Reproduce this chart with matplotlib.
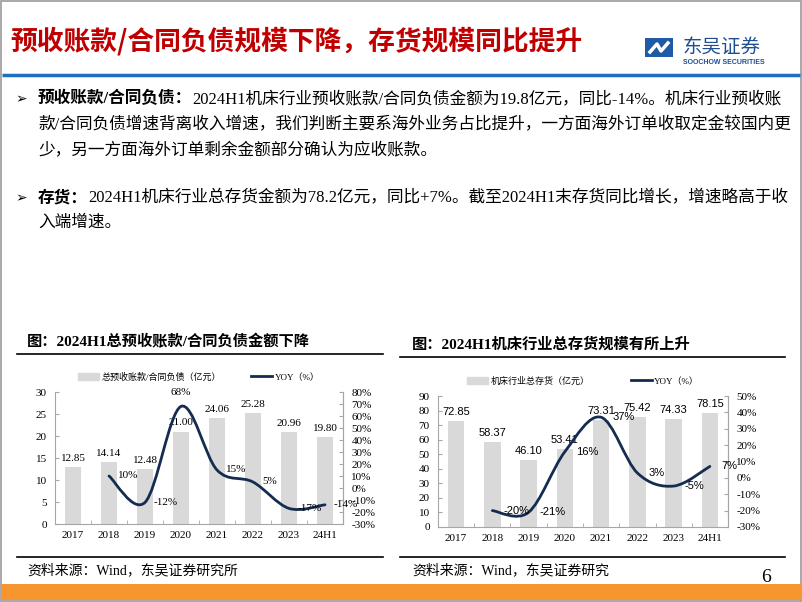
import numpy as np
import matplotlib
matplotlib.use("Agg")
import matplotlib.pyplot as plt
from matplotlib.path import Path
from matplotlib.patches import PathPatch, Rectangle, Patch
from matplotlib.lines import Line2D

CJK = "Noto Sans CJK SC"
SERIF = ["Liberation Serif", CJK]
SANS = ["Liberation Sans", CJK]
plt.rcParams["font.family"] = SERIF

# data
years = ["2017", "2018", "2019", "2020", "2021", "2022", "2023", "24H1"]
adv_amt = [12.85, 14.14, 12.48, 21.00, 24.06, 25.28, 20.96, 19.80]
adv_yoy = [10, -12, 68, 15, 5, -17, -14]          # from 2018
inv_amt = [72.85, 58.37, 46.10, 53.41, 73.31, 75.42, 74.33, 78.15]
inv_yoy = [-20, -21, 16, 37, 3, -5, 7]            # from 2018

BAR = "#D9D9D9"
LINE = "#132C50"
SPINE = "#A6A6A6"


def smooth_path(xs, ys):
    # Catmull-Rom style bezier, like excel smoothed lines
    pts = np.column_stack([xs, ys]).astype(float)
    n = len(pts)
    verts = [pts[0]]
    codes = [Path.MOVETO]
    for i in range(n - 1):
        p0 = pts[i - 1] if i > 0 else pts[i]
        p1, p2 = pts[i], pts[i + 1]
        p3 = pts[i + 2] if i + 2 < n else pts[i + 1]
        verts += [p1 + (p2 - p0) / 6, p2 - (p3 - p1) / 6, p2]
        codes += [Path.CURVE4] * 3
    return Path(verts, codes)


fig = plt.figure(figsize=(8.02, 6.02), dpi=100)

# background / page layer in pixel coords
bg = fig.add_axes([0, 0, 1, 1])
bg.set_xlim(0, 802)
bg.set_ylim(602, 0)
bg.axis("off")
bg.set_zorder(0)

bg.add_patch(Rectangle((0.5, 0.5), 800, 600, fill=False, ec="#9A9A9A", lw=1.2))
bg.plot([2, 800], [75, 75], color="#1E70BE", lw=2.5, solid_capstyle="butt")
bg.add_patch(Rectangle((1, 584), 800, 16, color="#F7962F", lw=0))

bg.text(10, 41, "预收账款/合同负债规模下降，存货规模同比提升", fontsize=19.3,
        color="#C00000", fontweight="bold", family=[CJK], va="center")

# logo
bg.add_patch(Rectangle((645, 38), 28, 19, color="#1F5AA6", lw=0))
bg.plot([650, 657, 661, 668], [52, 44, 51, 43], color="white", lw=2.5)
bg.text(683, 47, "东吴证券", fontsize=14, color="#1F4E91", family=[CJK], va="center")
bg.text(683, 62, "SOOCHOW SECURITIES", fontsize=5, color="#1F4E91",
        family=["Liberation Sans"], fontweight="bold", va="center")

renderer = fig.canvas.get_renderer()


def rich_line(x, y, bold, rest):
    if bold:
        t = bg.text(x, y, bold, fontsize=12, fontweight="bold", family=SERIF, va="center")
        x = t.get_window_extent(renderer).x1
    bg.text(x, y, rest, fontsize=12, family=SERIF, va="center")


for yb in [99, 198]:
    bg.text(15, yb, "➢", fontsize=10, family=["DejaVu Sans"], va="center")

rich_line(38, 99, "预收账款/合同负债：",
          "2024H1机床行业预收账款/合同负债金额为19.8亿元，同比-14%。机床行业预收账")
rich_line(38, 125, "", "款/合同负债增速背离收入增速，我们判断主要系海外业务占比提升，一方面海外订单收取定金较国内更")
rich_line(38, 150, "", "少，另一方面海外订单剩余金额部分确认为应收账款。")
rich_line(38, 198, "存货：",
          "2024H1机床行业总存货金额为78.2亿元，同比+7%。截至2024H1末存货同比增长，增速略高于收")
rich_line(38, 223, "", "入端增速。")

# chart titles and rules
bg.text(27, 342, "图：2024H1总预收账款/合同负债金额下降", fontsize=11, fontweight="bold",
        family=SERIF, va="center")
bg.text(412, 344, "图：2024H1机床行业总存货规模有所上升", fontsize=11, fontweight="bold",
        family=SERIF, va="center")
bg.plot([17, 383], [354, 354], color="black", lw=1.2)
bg.plot([400, 785], [357, 357], color="black", lw=1.2)
bg.plot([17, 383], [557, 557], color="black", lw=1.2)
bg.plot([400, 785], [557, 557], color="black", lw=1.2)
bg.text(27, 570, "资料来源：Wind，东吴证券研究所", fontsize=10, family=SERIF, va="center")
bg.text(412, 570, "资料来源：Wind，东吴证券研究", fontsize=10, family=SERIF, va="center")
bg.text(766, 578, "6", fontsize=14, family=SERIF, va="center", ha="center")


def draw_chart(rect, amt, yoy, ylim, ystep, y2lim, y2step, bar_label, yoy_label,
               label_font, off, above_idx, legend_cols):
    ax = fig.add_axes(rect)
    ax.set_zorder(2)
    ax.patch.set_visible(False)
    x = np.arange(len(years))
    ax.bar(x, amt, width=0.46, color=BAR, zorder=1)
    ax.set_xlim(-0.5, len(years) - 0.5)
    ax.set_ylim(*ylim)
    ax.set_yticks(np.arange(ylim[0], ylim[1] + 0.1, ystep))
    ax.set_xticks(x)
    ax.set_xticklabels(years)
    ax.set_xticks(np.arange(0.5, len(years) - 1, 1), minor=True)
    ax.tick_params(axis="x", which="major", length=0, labelsize=8, pad=5)
    ax.tick_params(axis="x", which="minor", length=3, direction="in", color=SPINE)
    ax.tick_params(axis="y", length=3, direction="in", color=SPINE, labelsize=8, pad=6)
    for s in ["top"]:
        ax.spines[s].set_visible(False)
    for s in ["left", "bottom", "right"]:
        ax.spines[s].set_color(SPINE)

    for xi, v in zip(x, amt):
        ax.annotate(f"{v:.2f}", (xi, v), xytext=(0, 3), textcoords="offset points",
                    ha="center", va="bottom", fontsize=8, family=label_font, zorder=5)

    ax2 = ax.twinx()
    ax2.set_ylim(*y2lim)
    ax2.set_yticks(np.arange(y2lim[0], y2lim[1] + 0.1, y2step))
    ax2.set_yticklabels([f"{int(v)}%" for v in ax2.get_yticks()])
    ax2.tick_params(axis="y", length=3, direction="in", color=SPINE, labelsize=8, pad=6)
    for s in ["top", "left", "bottom"]:
        ax2.spines[s].set_visible(False)
    ax2.spines["right"].set_color(SPINE)

    xl = x[1:]
    ax2.add_patch(PathPatch(smooth_path(xl, yoy), fill=False, ec=LINE, lw=2.0,
                            capstyle="round", zorder=3))
    for i, (xi, v) in enumerate(zip(xl, yoy)):
        if i == above_idx:
            ax2.annotate(f"{v}%", (xi, v), xytext=(0, 7), textcoords="offset points",
                         ha="center", va="bottom", fontsize=8, family=yoy_label)
        else:
            ax2.annotate(f"{v}%", (xi, v), xytext=(off, 0), textcoords="offset points",
                         ha="left", va="center", fontsize=8, family=yoy_label)

    handles = [Patch(color=BAR), Line2D([], [], color=LINE, lw=2.0)]
    ax2.legend(handles, [bar_label, "YOY（%）"], loc="center",
               bbox_to_anchor=(0.5, 1 + 15 / 132), ncol=2, frameon=False,
               prop={"family": SERIF, "size": 6.5}, handlelength=2.3,
               handleheight=0.8, handletextpad=0.3, columnspacing=legend_cols)
    return ax, ax2


draw_chart([55 / 802, 78 / 602, 288 / 802, 132 / 602], adv_amt, adv_yoy,
           (0, 30), 5, (-30, 80), 10, "总预收账款/合同负债（亿元）", SERIF, SERIF,
           6.5, 2, 3.3)
draw_chart([438 / 802, 75 / 602, 290 / 802, 131 / 602], inv_amt, inv_yoy,
           (0, 90), 10, (-30, 50), 10, "机床行业总存货（亿元）", SANS, SANS,
           8, None, 4.6)

fig.savefig("out.png", dpi=100)
